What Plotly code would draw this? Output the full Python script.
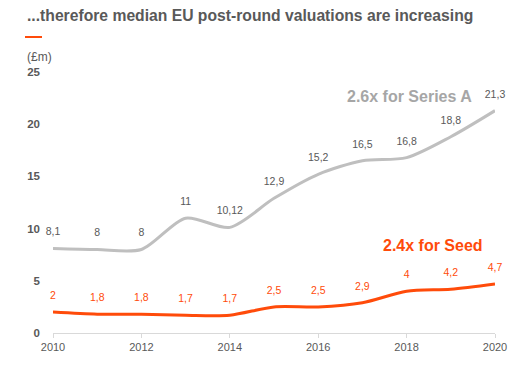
import plotly.graph_objects as go

years = [2010, 2011, 2012, 2013, 2014, 2015, 2016, 2017, 2018, 2019, 2020]
series_a = [8.1, 8, 8, 11, 10.12, 12.9, 15.2, 16.5, 16.8, 18.8, 21.3]
seed = [2, 1.8, 1.8, 1.7, 1.7, 2.5, 2.5, 2.9, 4, 4.2, 4.7]
series_a_labels = ["8,1", "8", "8", "11", "10,12", "12,9", "15,2", "16,5", "16,8", "18,8", "21,3"]
seed_labels = ["2", "1,8", "1,8", "1,7", "1,7", "2,5", "2,5", "2,9", "4", "4,2", "4,7"]
x_ticks = [2010, 2012, 2014, 2016, 2018, 2020]
y_ticks = [0, 5, 10, 15, 20, 25]

GRAY_LINE = "#BFBFBF"
ORANGE = "#FF4B0A"
TXT = "#595959"
FONT = "Liberation Sans"

fig = go.Figure()
fig.add_trace(go.Scatter(
    x=years, y=series_a, mode="lines+markers+text", text=series_a_labels,
    textposition="top center", textfont=dict(family=FONT, size=10.5, color=TXT),
    marker=dict(size=15, opacity=0),
    line=dict(color=GRAY_LINE, width=3, shape="spline", smoothing=0.8),
    cliponaxis=False, hoverinfo="skip", showlegend=False))
fig.add_trace(go.Scatter(
    x=years, y=seed, mode="lines+markers+text", text=seed_labels,
    textposition="top center", textfont=dict(family=FONT, size=10.5, color=ORANGE),
    marker=dict(size=15, opacity=0),
    line=dict(color=ORANGE, width=3, shape="spline", smoothing=0.8),
    cliponaxis=False, hoverinfo="skip", showlegend=False))

fig.update_layout(
    width=531, height=365,
    margin=dict(l=53, r=36, t=72, b=32),
    paper_bgcolor="white", plot_bgcolor="white",
    xaxis=dict(range=[2010, 2020], tickvals=x_ticks, showgrid=False, zeroline=False,
               showline=True, linecolor="#D9D9D9", linewidth=1,
               ticks="outside", ticklen=4, tickcolor="#D9D9D9",
               tickfont=dict(family=FONT, size=11, color=TXT)),
    yaxis=dict(range=[0, 25], tickvals=y_ticks, showgrid=False, zeroline=False,
               showline=False, ticks="", ticklabelstandoff=12,
               tickfont=dict(family=FONT, size=11.5, color=TXT, weight="bold")),
    annotations=[
        dict(text="...therefore median EU post-round valuations are increasing",
             xref="paper", yref="paper", x=-0.0633, y=(333 - 16) / 261,
             xanchor="left", yanchor="middle", showarrow=False,
             font=dict(family=FONT, size=15.7, color=TXT, weight="bold")),
        dict(text="(£m)", xref="paper", yref="paper", x=-0.0633, y=(333 - 57) / 261,
             xanchor="left", yanchor="middle", showarrow=False,
             font=dict(family=FONT, size=12, color=TXT)),
        dict(text="2.6x for Series A", xref="paper", yref="paper",
             x=(409 - 53) / 442, y=(333 - 96) / 261, xanchor="center", yanchor="middle",
             showarrow=False, font=dict(family=FONT, size=16, color="#A6A6A6", weight="bold")),
        dict(text="2.4x for Seed", xref="paper", yref="paper",
             x=(433 - 53) / 442, y=(333 - 245) / 261, xanchor="center", yanchor="middle",
             showarrow=False, font=dict(family=FONT, size=16, color=ORANGE, weight="bold")),
    ],
    shapes=[dict(type="line", xref="paper", yref="paper",
                 x0=-0.0633, x1=-0.0249, y0=(333 - 37) / 261, y1=(333 - 37) / 261,
                 line=dict(color=ORANGE, width=2))],
)

fig.write_html("out.html", config={"displayModeBar": False},
               post_script="document.body.style.margin='0';")
